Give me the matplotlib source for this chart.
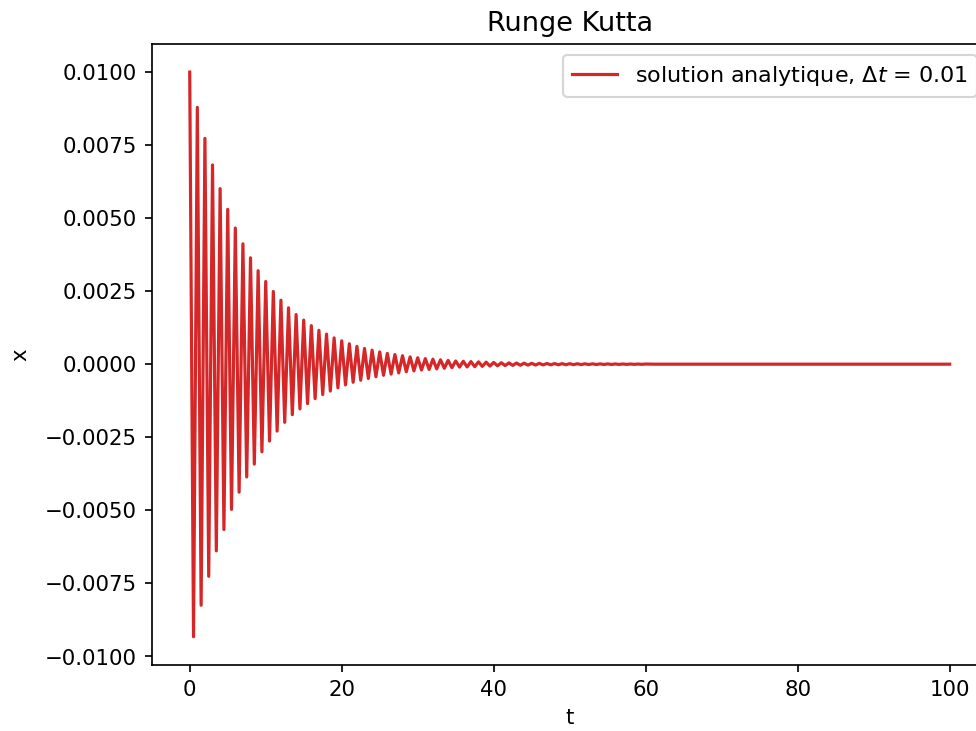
import matplotlib
matplotlib.use('Agg')
import matplotlib.pyplot as plt

# -----------------------------
# DATA (extrema)
# -----------------------------
# maxima at t = 0, 1, 2, ...
peak_t = list(range(61))
peak_x = [0.0100, 0.00879, 0.00773, 0.00682, 0.00601, 0.00530, 0.00466, 0.00412,
          0.00364, 0.00320, 0.00283, 0.00249, 0.00219, 0.00193, 0.00170, 0.00151,
          0.00132, 0.00116, 0.00103, 0.00090, 0.00080, 0.00070, 0.00061, 0.00054,
          0.00048, 0.00042, 0.00037, 0.00033, 0.00029, 0.00025, 0.00022, 0.00019,
          0.00017, 0.00015, 0.00013, 0.00011, 0.00010, 0.00009, 0.00008, 0.00007,
          0.00006, 0.00005, 0.000045, 0.00004, 0.000035, 0.00003, 0.000027,
          0.000024, 0.000021, 0.000019, 0.000017, 0.000015, 0.000013, 0.000012,
          0.000010, 0.000009, 0.000008, 0.000007, 0.000006, 0.000005, 0.000005]

# minima at t = 0.5, 1.5, 2.5, ...
trough_t = [k + 0.5 for k in range(60)]
trough_x = [-0.00933, -0.00825, -0.00726, -0.00639, -0.00566, -0.00497, -0.00438,
            -0.00386, -0.00342, -0.00300, -0.00263, -0.00229, -0.00199, -0.00173,
            -0.00153, -0.00135, -0.00118, -0.00104, -0.00092, -0.00081, -0.00071,
            -0.00062, -0.00055, -0.00049, -0.00043, -0.00038, -0.00034, -0.00030,
            -0.00026, -0.00023, -0.00020, -0.00018, -0.00016, -0.00014, -0.00012,
            -0.00010, -0.000095, -0.000085, -0.000075, -0.000065, -0.000055,
            -0.000048, -0.000042, -0.000037, -0.000032, -0.000028, -0.000025,
            -0.000022, -0.000020, -0.000018, -0.000016, -0.000014, -0.000012,
            -0.000011, -0.000010, -0.000009, -0.000008, -0.000007, -0.000006,
            -0.000005]

# flat tail up to the end of the run
tail_t = [61, 100]
tail_x = [0.0, 0.0]


def main():
    # interleave maxima and minima into one time series
    t = []
    x = []
    for i in range(len(peak_t)):
        t.append(peak_t[i])
        x.append(peak_x[i])
        if i < len(trough_t):
            t.append(trough_t[i])
            x.append(trough_x[i])
    t += tail_t
    x += tail_x

    fig = plt.figure(figsize=(6.4, 4.79), dpi=152.65)
    # the right edge of the axes runs slightly past the picture, as in the reference
    ax = fig.add_axes([0.1553, 0.0903, 0.8557, 0.8495])

    ax.plot(t, x, color='tab:red', label=r"solution analytique, $\Delta t$ = 0.01")
    ax.set_title("Runge Kutta", fontsize=12.8)
    ax.set_xlabel("t")
    ax.set_ylabel("x", labelpad=7)
    ax.legend(loc='upper right', fontsize=10.5)

    fig.savefig("out.png", dpi=152.65)
    plt.close(fig)


if __name__ == "__main__":
    main()
